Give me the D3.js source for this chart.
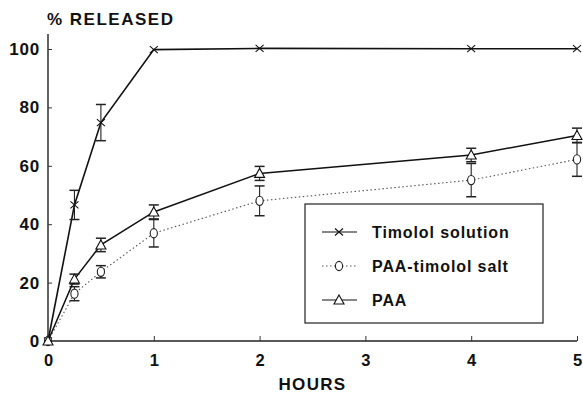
<!DOCTYPE html>
<html>
<head>
<meta charset="utf-8">
<script src="https://cdn.jsdelivr.net/npm/d3@7"></script>
<style>
  body { margin: 0; background: #fff; }
  svg { display: block; font-family: "Liberation Sans", Arial, sans-serif; }
</style>
</head>
<body>
<div id="chart"></div>
<script>
// release profiles, % released vs hours
const hours = [0, 0.25, 0.5, 1, 2, 4, 5];
const solutionMean = [0, 46.6, 74.8, 99.8, 100.2, 100.1, 100.1];
const solutionErr  = [0, 5, 6.2, 0.4, 0.3, 0.3, 0.3];
const saltMean = [0, 16.2, 23.7, 36.9, 48, 55.1, 62.2];
const saltErr  = [0, 2.4, 2.1, 4.7, 5.1, 5.7, 5.8];
const paaMean = [0, 21.2, 32.9, 44.2, 57.4, 63.7, 70.4];
const paaErr  = [0, 1.7, 2.3, 2.4, 2.4, 2.3, 2.5];
const seriesNames = ["Timolol solution", "PAA-timolol salt", "PAA"];
const xTicks = [0, 1, 2, 3, 4, 5];
const yTicks = [0, 20, 40, 60, 80, 100];

const W = 583, H = 395;
const margin = { top: 49, right: 6, bottom: 54, left: 48 };
const width = W - margin.left - margin.right;
const height = H - margin.top - margin.bottom;

const x = d3.scaleLinear().domain([0, 5]).range([0, width]);
const y = d3.scaleLinear().domain([0, 100]).range([height, 0]);

const svg = d3.select("#chart").append("svg")
    .attr("width", W)
    .attr("height", H);

const g = svg.append("g")
    .attr("transform", "translate(" + margin.left + "," + margin.top + ")");

// axes
const xAxis = g.append("g")
    .attr("transform", "translate(0," + height + ")")
    .call(d3.axisBottom(x).tickValues(xTicks).tickSize(-5).tickPadding(13).tickFormat(d3.format("d")));
xAxis.select(".domain").attr("d", "M0,0H" + width).attr("stroke", "#222").attr("stroke-width", 1.4);
xAxis.selectAll(".tick line").attr("stroke", "#333");
xAxis.selectAll(".tick text")
    .attr("font-size", 16.5).attr("font-weight", "bold").attr("fill", "#111");

const yAxis = g.append("g")
    .call(d3.axisLeft(y).tickValues(yTicks).tickSize(-4).tickPadding(8));
yAxis.select(".domain").attr("d", "M0," + height + "V-15").attr("stroke", "#222").attr("stroke-width", 1.4);
yAxis.selectAll(".tick line").attr("stroke", "#333");
yAxis.selectAll(".tick text")
    .attr("font-size", 17).attr("font-weight", "bold").attr("fill", "#111")
    .attr("letter-spacing", 0.8);

svg.append("text")
    .attr("x", 47).attr("y", 25)
    .attr("font-size", 17).attr("font-weight", "bold").attr("fill", "#111")
    .attr("letter-spacing", 1.5)
    .text("% RELEASED");

svg.append("text")
    .attr("x", margin.left + x(2.5)).attr("y", 390)
    .attr("text-anchor", "middle")
    .attr("font-size", 17).attr("font-weight", "bold").attr("fill", "#111")
    .attr("letter-spacing", 1.3)
    .text("HOURS");

// marker shapes
function drawMarker(sel, kind) {
    if (kind === "x") {
        sel.append("path").attr("d", "M-4,-3.5L4,3.5M-4,3.5L4,-3.5")
            .attr("stroke", "#111").attr("stroke-width", 1.1).attr("fill", "none");
    } else if (kind === "d") {
        sel.append("ellipse").attr("rx", 3.6).attr("ry", 4.6)
            .attr("stroke", "#222").attr("stroke-width", 1.1).attr("fill", "#fff");
    } else {
        sel.append("path").attr("d", "M0,-5L5,4H-5Z")
            .attr("stroke", "#111").attr("stroke-width", 1.1).attr("fill", "#fff");
    }
}

const series = [
    { name: seriesNames[0], mean: solutionMean, err: solutionErr, kind: "x", dash: null, color: "#111", w: 1.6 },
    { name: seriesNames[1], mean: saltMean, err: saltErr, kind: "d", dash: "1.5,2.5", color: "#555", w: 1.1 },
    { name: seriesNames[2], mean: paaMean, err: paaErr, kind: "t", dash: null, color: "#111", w: 1.5 }
];

const line = d3.line()
    .x(d => x(d.h))
    .y(d => y(d.v));

series.forEach(s => {
    const pts = hours.map((h, i) => ({ h: h, v: s.mean[i], e: s.err[i] }));
    g.append("path")
        .datum(pts)
        .attr("d", line)
        .attr("fill", "none")
        .attr("stroke", s.color)
        .attr("stroke-width", s.w)
        .attr("stroke-dasharray", s.dash);

    const eb = g.selectAll(null)
        .data(pts.filter(p => p.e > 0.5))
        .enter().append("g")
        .attr("stroke", "#222").attr("stroke-width", 1.1);
    eb.append("line")
        .attr("x1", d => x(d.h)).attr("x2", d => x(d.h))
        .attr("y1", d => y(d.v + d.e)).attr("y2", d => y(d.v - d.e));
    eb.append("line")
        .attr("x1", d => x(d.h) - 5).attr("x2", d => x(d.h) + 5)
        .attr("y1", d => y(d.v + d.e)).attr("y2", d => y(d.v + d.e))
        .attr("stroke-width", 1.5);
    eb.append("line")
        .attr("x1", d => x(d.h) - 5).attr("x2", d => x(d.h) + 5)
        .attr("y1", d => y(d.v - d.e)).attr("y2", d => y(d.v - d.e))
        .attr("stroke-width", 1.5);

    g.selectAll(null)
        .data(pts)
        .enter().append("g")
        .attr("transform", d => "translate(" + x(d.h) + "," + y(d.v) + ")")
        .each(function () { drawMarker(d3.select(this), s.kind); });
});

// legend
const legend = svg.append("g").attr("transform", "translate(305,204)");
legend.append("rect")
    .attr("width", 238).attr("height", 119)
    .attr("fill", "#fff").attr("stroke", "#222").attr("stroke-width", 1.2);

series.forEach((s, i) => {
    const row = legend.append("g").attr("transform", "translate(0," + (28 + i * 34) + ")");
    row.append("line")
        .attr("x1", 17).attr("x2", 52)
        .attr("stroke", s.color).attr("stroke-width", s.kind === "d" ? 1 : 1.2)
        .attr("stroke-dasharray", s.dash);
    const m = row.append("g").attr("transform", "translate(34,0)");
    drawMarker(m, s.kind);
    row.append("text")
        .attr("x", 67).attr("y", 6)
        .attr("font-size", 16).attr("font-weight", "bold").attr("fill", "#111")
        .attr("letter-spacing", 0.9)
        .text(s.name);
});
</script>
</body>
</html>
